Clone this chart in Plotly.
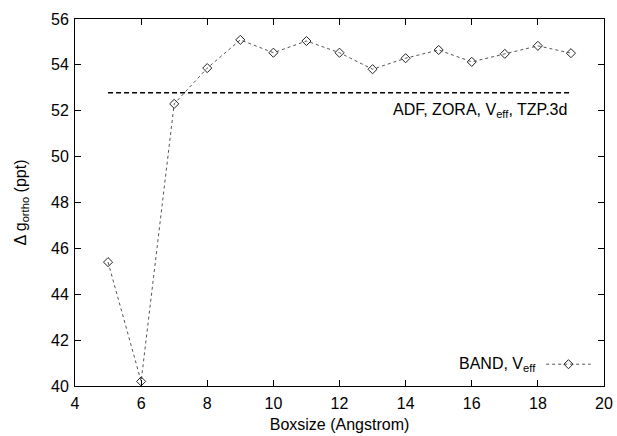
import plotly.graph_objects as go

boxsize = [5, 6, 7, 8, 9, 10, 11, 12, 13, 14, 15, 16, 17, 18, 19]
band_veff = [45.4, 40.2, 52.3, 53.86, 55.09, 54.53, 55.04, 54.53, 53.81, 54.29, 54.65, 54.13, 54.48, 54.83, 54.51]
adf_x = [5, 19]
adf_value = [52.78, 52.78]
legend_x = [18.25, 19.6]
legend_y = [40.95, 40.95]

FONT = "Liberation Sans, Arial, sans-serif"
FS = 16

fig = go.Figure()
fig.add_trace(go.Scatter(
    x=boxsize, y=band_veff, mode="lines+markers",
    line=dict(color="#555555", width=1, dash="3px,3px"),
    marker=dict(symbol="diamond-open", size=7, color="#222222", line=dict(width=1)),
    showlegend=False, cliponaxis=False))
fig.add_trace(go.Scatter(
    x=adf_x, y=adf_value, mode="lines",
    line=dict(color="black", width=1.5, dash="5px,3px"),
    showlegend=False))
# legend sample
fig.add_trace(go.Scatter(
    x=legend_x, y=legend_y, mode="lines",
    line=dict(color="#555555", width=1, dash="3px,3px"), showlegend=False))
fig.add_trace(go.Scatter(
    x=[sum(legend_x) / 2], y=[legend_y[0]], mode="markers",
    marker=dict(symbol="diamond-open", size=7, color="#222222", line=dict(width=1)),
    showlegend=False))

fig.add_annotation(x=18.95, y=52.0, xref="x", yref="y", xanchor="right", yanchor="middle",
                   text="ADF, ZORA, V<sub>eff</sub>, TZP.3d", showarrow=False,
                   font=dict(family=FONT, size=FS, color="black"))
fig.add_annotation(x=18.0, y=40.95, xref="x", yref="y", xanchor="right", yanchor="middle",
                   text="BAND, V<sub>eff</sub>", showarrow=False,
                   font=dict(family=FONT, size=FS, color="black"))

axis_common = dict(showline=True, linecolor="black", linewidth=1, mirror="ticks",
                   ticks="inside", ticklen=6, tickcolor="black", showgrid=False,
                   zeroline=False, automargin=False,
                   tickfont=dict(family=FONT, size=FS, color="black"))
fig.update_xaxes(range=[4, 20], tickvals=list(range(4, 21, 2)), ticklabelstandoff=3,
                 title=dict(text="Boxsize (Angstrom)", font=dict(family=FONT, size=FS, color="black"), standoff=7),
                 **axis_common)
fig.update_yaxes(range=[40, 56], tickvals=list(range(40, 57, 2)), ticklabelstandoff=2,
                 title=dict(text="Δ g<sub>ortho</sub> (ppt)", font=dict(family=FONT, size=FS, color="black"), standoff=20),
                 **axis_common)

fig.update_layout(width=617, height=436, margin=dict(l=75, r=13, t=19, b=50),
                  plot_bgcolor="white", paper_bgcolor="white")
fig.write_html("out.html")
